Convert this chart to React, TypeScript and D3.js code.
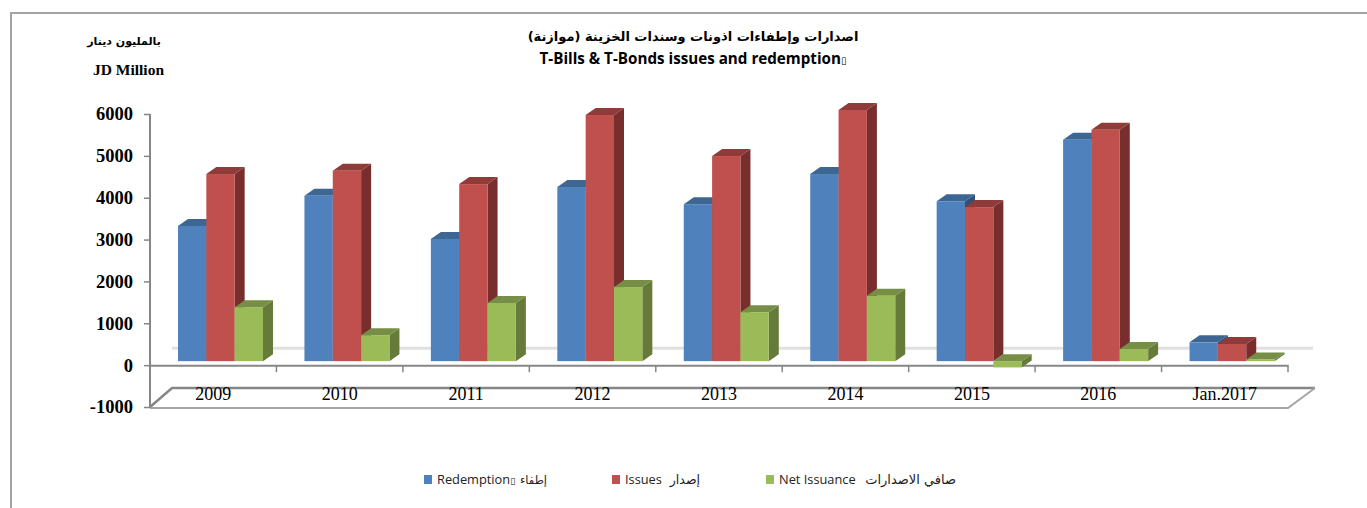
import React, { useEffect, useRef } from "react";
import * as d3 from "d3";

const categories = ["2009", "2010", "2011", "2012", "2013", "2014", "2015", "2016", "Jan.2017"];
const redemption = [3230, 3950, 2920, 4160, 3750, 4470, 3820, 5290, 450];
const issues = [4470, 4550, 4230, 5880, 4900, 6000, 3680, 5530, 410];
const netIssuance = [1290, 620, 1390, 1770, 1170, 1560, -150, 290, 40];
const yTicks = [-1000, 0, 1000, 2000, 3000, 4000, 5000, 6000];

const seriesColors = [
  { front: "#4f81bd", top: "#3d6692", side: "#2f5078" },
  { front: "#c0504d", top: "#8e3b39", side: "#772e2d" },
  { front: "#9bbb59", top: "#768e45", side: "#667b39" },
];
const seriesValues = [redemption, issues, netIssuance];

const width = 1367;
const height = 508;
const depthX = 10;
const depthY = 7;
const floorX = 22;
const floorY = 19;
const barLift = 4;
const axisColor = "#868686";
const serif = "'Liberation Serif', serif";
const sans = "'Open Sans', sans-serif";
const arabic = "'DejaVu Sans', sans-serif";

export default function App() {
  const ref = useRef<SVGSVGElement>(null);

  useEffect(() => {
    const svg = d3.select(ref.current);
    svg.selectAll("*").remove();

    const y = d3.scaleLinear().domain([-1000, 6000]).range([407, 114]);
    const x = d3.scaleBand().domain(categories).range([150, 1288]);
    const inner = d3.scaleBand().domain(["0", "1", "2"]).range([28, 28 + 85]);

    // frame
    svg.append("path")
      .attr("d", `M${width},13H11V${height}`)
      .attr("fill", "none")
      .attr("stroke", "#a3a3a3")
      .attr("stroke-width", 2);

    // back wall zero line
    svg.append("line")
      .attr("x1", 150 + floorX).attr("x2", 1288 + 25)
      .attr("y1", y(0) - 17).attr("y2", y(0) - 17)
      .attr("stroke", "#e0e0e0").attr("stroke-width", 3);

    // floor of the 3d box
    svg.append("path")
      .attr("d", `M150,407L${150 + floorX},${407 - floorY}H${1288 + 27}`)
      .attr("fill", "none").attr("stroke", axisColor).attr("stroke-width", 2.5);
    svg.append("path")
      .attr("d", `M150,408H1288L${1288 + 27},${407 - floorY}`)
      .attr("fill", "none").attr("stroke", "#a6a6a6").attr("stroke-width", 2);

    // value axis
    const yAxis = svg.append("g")
      .attr("transform", "translate(150,0)")
      .call(d3.axisLeft(y).tickValues(yTicks).tickSize(6).tickPadding(11).tickFormat((d) => String(d)));
    yAxis.selectAll("line").attr("stroke", axisColor).attr("stroke-width", 1.5);
    yAxis.select(".domain").attr("stroke", axisColor).attr("stroke-width", 2).attr("d", "M0,114V408");
    yAxis.selectAll("text")
      .attr("font-family", serif).attr("font-size", 18.5).attr("font-weight", "bold").attr("fill", "#000");

    // category axis sits on the zero line
    const xAxis = svg.append("g")
      .attr("transform", `translate(0,${y(0)})`)
      .call(d3.axisBottom(x).tickSize(0).tickPadding(22));
    xAxis.select(".domain").attr("stroke", axisColor).attr("stroke-width", 2);
    xAxis.selectAll("text")
      .attr("font-family", serif).attr("font-size", 18).attr("fill", "#000");
    svg.append("g").selectAll("line")
      .data(categories)
      .join("line")
      .attr("x1", (d) => x(d)! + x.bandwidth()).attr("x2", (d) => x(d)! + x.bandwidth())
      .attr("y1", y(0)).attr("y2", y(0) + 7)
      .attr("stroke", axisColor).attr("stroke-width", 1.5);

    // bars, left to right so each one covers the side of the previous
    const bars = svg.append("g");
    categories.forEach((cat, c) => {
      seriesValues.forEach((values, s) => {
        const v = values[c];
        const x0 = x(cat)! + inner(String(s))!;
        const x1 = x0 + inner.bandwidth();
        const yTop = y(Math.max(v, 0)) - barLift;
        const yBase = y(Math.min(v, 0)) - barLift;
        const col = seriesColors[s];
        bars.append("path")
          .attr("d", `M${x1},${yTop}l${depthX},${-depthY}V${yBase - depthY}l${-depthX},${depthY}Z`)
          .attr("fill", col.side);
        bars.append("path")
          .attr("d", `M${x0},${yTop}l${depthX},${-depthY}H${x1 + depthX}l${-depthX},${depthY}Z`)
          .attr("fill", col.top);
        bars.append("rect")
          .attr("x", x0).attr("y", yTop)
          .attr("width", inner.bandwidth()).attr("height", yBase - yTop)
          .attr("fill", col.front);
      });
    });

    // titles
    svg.append("text")
      .attr("x", 693).attr("y", 41).attr("text-anchor", "middle")
      .attr("font-family", arabic).attr("font-size", 13).attr("font-weight", "bold")
      .text("اصدارات وإطفاءات اذونات وسندات الخزينة (موازنة)");
    const t2 = svg.append("text")
      .attr("x", 693).attr("y", 64).attr("text-anchor", "middle")
      .attr("font-family", sans).attr("font-size", 15.2).attr("font-weight", "bold");
    t2.append("tspan").text("T-Bills & T-Bonds issues and redemption");
    t2.append("tspan").attr("font-size", 10).attr("font-family", "'DejaVu Sans'").text("▯");

    svg.append("text")
      .attr("x", 124).attr("y", 45).attr("text-anchor", "middle")
      .attr("font-family", arabic).attr("font-size", 11).attr("font-weight", "bold")
      .text("بالمليون دينار");
    svg.append("text")
      .attr("x", 128.5).attr("y", 75).attr("text-anchor", "middle")
      .attr("font-family", serif).attr("font-size", 15.5).attr("font-weight", "bold")
      .text("JD Million");

    // legend
    const legendItems = [
      { swatch: 424, label: "Redemption", tofu: true, ar: "إطفاء", arEnd: 547, arSize: 11.5 },
      { swatch: 612, label: "Issues", tofu: false, ar: "إصدار", arEnd: 700, arSize: 12.5 },
      { swatch: 766, label: "Net Issuance", tofu: false, ar: "صافي الاصدارات", arEnd: 956, arSize: 13 },
    ];
    legendItems.forEach((item, i) => {
      svg.append("rect")
        .attr("x", item.swatch).attr("y", 475)
        .attr("width", 8).attr("height", 9)
        .attr("fill", seriesColors[i].front);
      const label = svg.append("text")
        .attr("x", item.swatch + 13).attr("y", 484)
        .attr("font-family", sans).attr("font-size", 12.8).attr("fill", "#222");
      label.append("tspan").text(item.label);
      if (item.tofu) {
        label.append("tspan").attr("font-size", 9).attr("font-family", "'DejaVu Sans'").text("▯");
      }
      svg.append("text")
        .attr("x", item.arEnd).attr("y", 484).attr("text-anchor", "end")
        .attr("font-family", arabic).attr("font-size", item.arSize).attr("fill", "#222")
        .text(item.ar);
    });
  }, []);

  return (
    <svg
      ref={ref}
      width={width}
      height={height}
      style={{ position: "absolute", left: 0, top: 0, display: "block", background: "#fff" }}
    />
  );
}
